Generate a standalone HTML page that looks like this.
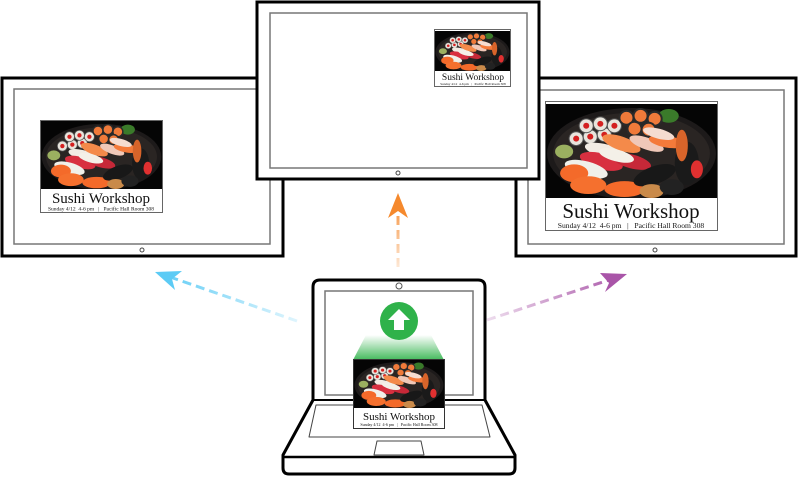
<!DOCTYPE html>
<html><head><meta charset="utf-8"><style>
html,body{margin:0;padding:0;background:#fff;width:798px;height:478px;overflow:hidden}
svg{display:block}
text{font-family:"Liberation Serif",serif;fill:#111;white-space:pre}
</style></head><body>
<svg width="798" height="478" viewBox="0 0 798 478" xmlns="http://www.w3.org/2000/svg">
<defs>
<symbol id="sushi" viewBox="0 0 170 95" preserveAspectRatio="none">
<rect width="170" height="95" fill="#050505"/>
<ellipse cx="85" cy="50" rx="84" ry="46" fill="#1d1a1a"/>
<ellipse cx="85" cy="50" rx="78" ry="41" fill="#2a2523"/>
<ellipse cx="122" cy="12" rx="10" ry="7" fill="#3a7a2a"/>
<g fill="#e8e4dc" stroke="#555" stroke-width="1">
<circle cx="30" cy="35" r="7"/><circle cx="44" cy="33" r="7"/><circle cx="58" cy="31" r="7"/>
<circle cx="40" cy="22" r="7"/><circle cx="54" cy="20" r="7"/><circle cx="68" cy="22" r="7"/>
</g>
<g fill="#d42020"><circle cx="30" cy="35" r="3"/><circle cx="44" cy="33" r="3"/><circle cx="58" cy="31" r="3"/><circle cx="40" cy="22" r="3"/><circle cx="54" cy="20" r="3"/><circle cx="68" cy="22" r="3"/></g>
<g fill="#f07a3a" stroke="#2a2a2a" stroke-width="2">
<circle cx="80" cy="14" r="7"/><circle cx="94" cy="12" r="7"/><circle cx="108" cy="15" r="7"/><circle cx="88" cy="25" r="7"/><circle cx="102" cy="26" r="7"/>
</g>
<ellipse cx="18" cy="48" rx="9" ry="7" fill="#9bb060"/>
<ellipse cx="60" cy="48" rx="22" ry="7" fill="#f2ece4" transform="rotate(15 60 48)"/>
<ellipse cx="75" cy="40" rx="20" ry="7" fill="#f48a4a" transform="rotate(20 75 40)"/>
<ellipse cx="100" cy="40" rx="18" ry="6" fill="#f0c8b8" transform="rotate(20 100 40)"/>
<ellipse cx="120" cy="38" rx="18" ry="6" fill="#f47a3a" transform="rotate(10 120 38)"/>
<ellipse cx="112" cy="30" rx="16" ry="5" fill="#f5dcd0" transform="rotate(15 112 30)"/>
<ellipse cx="55" cy="58" rx="22" ry="8" fill="#d83040" transform="rotate(15 55 58)"/>
<ellipse cx="85" cy="58" rx="20" ry="7" fill="#c62838" transform="rotate(15 85 58)"/>
<ellipse cx="70" cy="52" rx="18" ry="6" fill="#f4f0e8" transform="rotate(15 70 52)"/>
<ellipse cx="40" cy="66" rx="22" ry="8" fill="#f0f0ea" transform="rotate(15 40 66)"/>
<ellipse cx="28" cy="70" rx="14" ry="9" fill="#f46a2a"/>
<ellipse cx="42" cy="82" rx="18" ry="9" fill="#f5702e"/>
<ellipse cx="78" cy="86" rx="20" ry="8" fill="#f46a2a"/>
<ellipse cx="108" cy="72" rx="22" ry="9" fill="#181818" transform="rotate(-20 108 72)"/>
<ellipse cx="140" cy="60" rx="12" ry="22" fill="#1a1a1a"/>
<ellipse cx="135" cy="42" rx="6" ry="16" fill="#d8642a"/>
<ellipse cx="150" cy="66" rx="6" ry="9" fill="#e03030"/>
<ellipse cx="105" cy="88" rx="12" ry="7" fill="#c98a4a"/>
<ellipse cx="125" cy="84" rx="12" ry="8" fill="#222"/>
</symbol>
<linearGradient id="gg" x1="0" y1="0" x2="0" y2="1"><stop offset="0" stop-color="#2fb24a" stop-opacity="0"/><stop offset="1" stop-color="#2fb24a" stop-opacity="0.9"/></linearGradient>
<linearGradient id="bl" x1="297" y1="321" x2="155" y2="272" gradientUnits="userSpaceOnUse"><stop offset="0" stop-color="#5ccbf5" stop-opacity="0.2"/><stop offset="1" stop-color="#5ccbf5"/></linearGradient>
<linearGradient id="pu" x1="487" y1="320" x2="627" y2="274" gradientUnits="userSpaceOnUse"><stop offset="0" stop-color="#a955a8" stop-opacity="0.2"/><stop offset="1" stop-color="#a955a8"/></linearGradient>
<linearGradient id="or" x1="398" y1="267" x2="398" y2="195" gradientUnits="userSpaceOnUse"><stop offset="0" stop-color="#f5892d" stop-opacity="0.2"/><stop offset="1" stop-color="#f5892d"/></linearGradient>
</defs>

<!-- left monitor -->
<rect x="2" y="78" width="281" height="178" fill="#fff" stroke="#000" stroke-width="3"/>
<rect x="14" y="89" width="256" height="155" fill="#fff" stroke="#777" stroke-width="1.5"/>
<circle cx="142" cy="250" r="2" fill="none" stroke="#444" stroke-width="1"/>
<rect x="40.5" y="120.5" width="122" height="92" fill="#fff" stroke="#666" stroke-width="1"/>
<use href="#sushi" x="41" y="121" width="121" height="68"/>
<text x="101" y="203" font-size="15" text-anchor="middle">Sushi Workshop</text>
<text x="101" y="210.5" font-size="5.5" text-anchor="middle">Sunday 4/12  4-6 pm   |   Pacific Hall Room 308</text>

<!-- right monitor -->
<rect x="516" y="78" width="280" height="178" fill="#fff" stroke="#000" stroke-width="3"/>
<rect x="528" y="90" width="256" height="154" fill="#fff" stroke="#777" stroke-width="1.5"/>
<circle cx="655" cy="250" r="2" fill="none" stroke="#444" stroke-width="1"/>
<rect x="545.5" y="101.5" width="172" height="129" fill="#fff" stroke="#666" stroke-width="1"/>
<use href="#sushi" x="546" y="104" width="171" height="94"/>
<text x="631" y="218" font-size="21" text-anchor="middle">Sushi Workshop</text>
<text x="631" y="228" font-size="7.6" text-anchor="middle">Sunday 4/12  4-6 pm   |   Pacific Hall Room 308</text>

<!-- top monitor -->
<rect x="257" y="2" width="282" height="177" fill="#fff" stroke="#000" stroke-width="3"/>
<rect x="270" y="13" width="257" height="155" fill="#fff" stroke="#777" stroke-width="1.5"/>
<circle cx="398" cy="173" r="2" fill="none" stroke="#444" stroke-width="1"/>
<rect x="434.5" y="29.5" width="76" height="57" fill="#fff" stroke="#666" stroke-width="1"/>
<use href="#sushi" x="435" y="31" width="75" height="40"/>
<text x="473" y="80" font-size="9.5" text-anchor="middle">Sushi Workshop</text>
<text x="473" y="85" font-size="3.4" text-anchor="middle">Sunday 4/12  4-6 pm   |   Pacific Hall Room 308</text>

<!-- arrows -->
<line x1="297" y1="321" x2="170" y2="277" stroke="url(#bl)" stroke-width="3" stroke-dasharray="9 5"/>
<polygon points="155,272 182,271 172,279 175,290" fill="#5ccbf5"/>
<line x1="398" y1="267" x2="398" y2="208" stroke="url(#or)" stroke-width="3" stroke-dasharray="9 5"/>
<polygon points="398,193 408,218 398,211 388,218" fill="#f5892d"/>
<line x1="487" y1="320" x2="612" y2="279" stroke="url(#pu)" stroke-width="3" stroke-dasharray="9 5"/>
<polygon points="627,274 605,292 609,283 600,273" fill="#a955a8"/>

<!-- laptop -->
<path d="M313,400 L313,287 Q313,280 320,280 L478,280 Q485,280 485,287 L485,400 L515,455 L515,468 Q515,474 509,474 L289,474 Q283,474 283,468 L283,455 Z" fill="#fff" stroke="#000" stroke-width="3" stroke-linejoin="round"/>
<line x1="283" y1="457" x2="515" y2="457" stroke="#000" stroke-width="2.5"/>
<line x1="313" y1="400" x2="485" y2="400" stroke="#000" stroke-width="2"/>
<rect x="325" y="291" width="148" height="104" fill="#fff" stroke="#777" stroke-width="1.5"/>
<circle cx="399" cy="286" r="3" fill="none" stroke="#555" stroke-width="1"/>
<path d="M316,405 L482,405 L490,437 L309,437 Z" fill="none" stroke="#444" stroke-width="1" stroke-linejoin="round"/>
<path d="M377,441 L421,441 L424,455 L374,455 Z" fill="none" stroke="#444" stroke-width="1" stroke-linejoin="round"/>
<polygon points="366,335 431,335 444,360 353,360" fill="url(#gg)"/>
<circle cx="399" cy="321" r="19" fill="#2fb24a"/>
<polygon points="399,309 410,320 404,320 404,330 394,330 394,320 388,320" fill="#fff"/>
<rect x="353.5" y="359.5" width="91" height="69" fill="#fff" stroke="#333" stroke-width="1"/>
<use href="#sushi" x="354" y="360" width="90" height="48"/>
<text x="399" y="420" font-size="11" text-anchor="middle">Sushi Workshop</text>
<text x="399" y="426" font-size="4" text-anchor="middle">Sunday 4/12  4-6 pm   |   Pacific Hall Room 308</text>
</svg>
</body></html>
